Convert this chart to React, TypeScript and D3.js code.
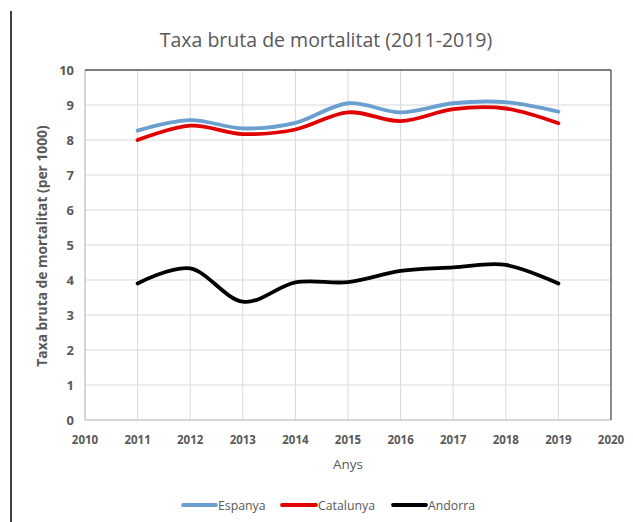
import React from "react";
import * as d3 from "d3";

const years = [2011, 2012, 2013, 2014, 2015, 2016, 2017, 2018, 2019];
const espanya = [8.27, 8.57, 8.33, 8.49, 9.05, 8.79, 9.05, 9.08, 8.81];
const catalunya = [8.0, 8.41, 8.17, 8.3, 8.79, 8.54, 8.88, 8.9, 8.48];
const andorra = [3.9, 4.33, 3.38, 3.93, 3.94, 4.26, 4.36, 4.43, 3.9];
const xTicks = [2010, 2011, 2012, 2013, 2014, 2015, 2016, 2017, 2018, 2019, 2020];
const yTicks = [0, 1, 2, 3, 4, 5, 6, 7, 8, 9, 10];
const seriesNames = ["Espanya", "Catalunya", "Andorra"];
const seriesColors = ["#6a9fd0", "#e00000", "#000000"];

const FONT = "'Open Sans', 'Liberation Sans', sans-serif";

export default function App() {
  const W = 633, H = 522;
  const left = 85, right = 611, top = 70, bottom = 420;
  const x = d3.scaleLinear().domain([2010, 2020]).range([left, right]);
  const y = d3.scaleLinear().domain([0, 10]).range([bottom, top]);
  const line = d3
    .line<number>()
    .x((_, i) => x(years[i]))
    .y((d) => y(d))
    .curve(d3.curveCardinal.tension(0));
  const series = [espanya, catalunya, andorra];
  const legendItems = [
    { lx: 183, tx: 218 },
    { lx: 282, tx: 318 },
    { lx: 393, tx: 428 },
  ];
  return (
    <svg
      width={W}
      height={H}
      style={{ position: "absolute", left: 0, top: 0, background: "#fff" }}
    >
      <rect x={0} y={0} width={W} height={H} fill="#fff" />
      <line x1={11} x2={11} y1={11} y2={H} stroke="#000" strokeWidth={1.5} />
      <text
        x={326}
        y={47}
        textAnchor="middle"
        fontFamily={FONT}
        fontSize={19.5}
        fill="#595959"
      >
        Taxa bruta de mortalitat (2011-2019)
      </text>
      {/* gridlines */}
      {yTicks.map((t) => (
        <line
          key={"gy" + t}
          x1={left}
          x2={right}
          y1={y(t)}
          y2={y(t)}
          stroke="#d9d9d9"
          strokeWidth={1}
        />
      ))}
      {xTicks.map((t) => (
        <line
          key={"gx" + t}
          x1={x(t)}
          x2={x(t)}
          y1={top}
          y2={bottom}
          stroke="#d9d9d9"
          strokeWidth={1}
        />
      ))}
      {/* plot borders */}
      <line x1={left} x2={left} y1={top} y2={bottom} stroke="#bfbfbf" strokeWidth={1} />
      <line x1={left} x2={right} y1={bottom} y2={bottom} stroke="#bfbfbf" strokeWidth={1} />
      <line x1={left} x2={right} y1={top} y2={top} stroke="#595959" strokeWidth={1.3} />
      <line x1={right} x2={right} y1={top} y2={bottom} stroke="#595959" strokeWidth={1.3} />
      {/* tick labels */}
      {yTicks.map((t) => (
        <text
          key={"ty" + t}
          x={74}
          y={y(t) + 4.5}
          textAnchor="end"
          fontFamily={FONT}
          fontSize={13}
          fontWeight="bold"
          fill="#595959"
        >
          {t}
        </text>
      ))}
      {xTicks.map((t) => (
        <text
          key={"tx" + t}
          x={x(t)}
          y={444}
          textAnchor="middle"
          fontFamily={FONT}
          fontSize={11.5}
          fontWeight="bold"
          fill="#595959"
        >
          {t}
        </text>
      ))}
      <text
        x={348}
        y={469}
        textAnchor="middle"
        fontFamily={FONT}
        fontSize={13.5}
        fill="#595959"
      >
        Anys
      </text>
      <text
        transform={`translate(47,${246}) rotate(-90)`}
        textAnchor="middle"
        fontFamily={FONT}
        fontSize={13.8}
        fontWeight="bold"
        fill="#595959"
      >
        Taxa bruta de mortalitat (per 1000)
      </text>
      {/* series */}
      {series.map((s, i) => (
        <path
          key={"s" + i}
          d={line(s) || ""}
          fill="none"
          stroke={seriesColors[i]}
          strokeWidth={3.8}
          strokeLinecap="round"
        />
      ))}
      {/* legend */}
      {seriesNames.map((n, i) => (
        <g key={"lg" + i}>
          <line
            x1={legendItems[i].lx}
            x2={legendItems[i].tx - 2}
            y1={505}
            y2={505}
            stroke={seriesColors[i]}
            strokeWidth={3.8}
            strokeLinecap="round"
          />
          <text
            x={legendItems[i].tx}
            y={509.5}
            fontFamily={FONT}
            fontSize={12.3}
            fill="#595959"
          >
            {n}
          </text>
        </g>
      ))}
    </svg>
  );
}
